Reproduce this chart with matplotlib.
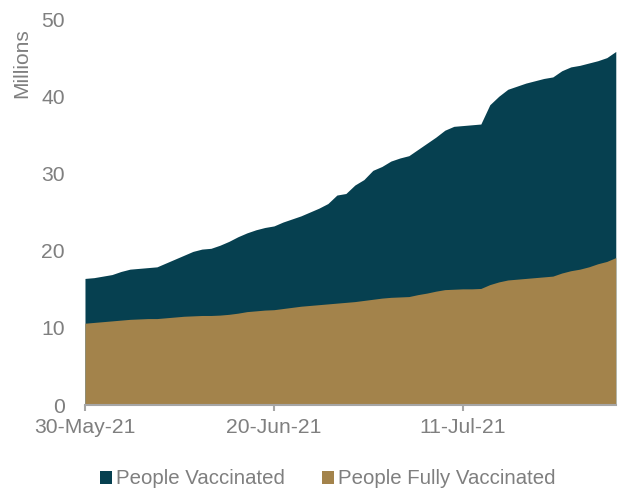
import matplotlib
matplotlib.use("Agg")
import matplotlib.pyplot as plt
import matplotlib.dates as mdates
import numpy as np
import pandas as pd
from matplotlib.patches import Patch

plt.rcParams['font.family'] = ['Liberation Sans', 'DejaVu Sans']

start_date = "2021-05-30"
people_vaccinated = [
    16.4, 16.5, 16.7, 16.9, 17.3, 17.6, 17.7, 17.8, 17.9, 18.4,
    18.9, 19.4, 19.9, 20.2, 20.3, 20.7, 21.2, 21.8, 22.3, 22.7,
    23.0, 23.2, 23.7, 24.1, 24.5, 25.0, 25.5, 26.1, 27.2, 27.4,
    28.5, 29.2, 30.4, 30.9, 31.6, 32.0, 32.3, 33.1, 33.9, 34.7,
    35.6, 36.1, 36.2, 36.3, 36.4, 38.9, 40.0, 40.9, 41.3, 41.7,
    42.0, 42.3, 42.5, 43.3, 43.8, 44.0, 44.3, 44.6, 45.0, 45.8,
]
people_fully_vaccinated = [
    10.6, 10.7, 10.8, 10.9, 11.0, 11.1, 11.15, 11.2, 11.2, 11.3,
    11.4, 11.5, 11.55, 11.6, 11.6, 11.65, 11.75, 11.9, 12.1, 12.2,
    12.3, 12.35, 12.5, 12.65, 12.8, 12.9, 13.0, 13.1, 13.2, 13.3,
    13.4, 13.55, 13.7, 13.85, 13.95, 14.0, 14.05, 14.3, 14.5, 14.75,
    14.95, 15.0, 15.05, 15.05, 15.1, 15.6, 15.95, 16.2, 16.3, 16.4,
    16.5, 16.6, 16.7, 17.1, 17.4, 17.6, 17.9, 18.3, 18.6, 19.1,
]
series_names = ["People Vaccinated", "People Fully Vaccinated"]
tick_dates = ["2021-05-30", "2021-06-20", "2021-07-11"]
y_ticks = [0, 10, 20, 30, 40, 50]

dates = pd.date_range(start_date, periods=len(people_vaccinated), freq="D")

c_dark = "#064050"
c_brown = "#A3834B"
c_text = "#7F7F7F"

fig = plt.figure(figsize=(6.23, 4.88), dpi=100)
ax = fig.add_axes([0.1364, 0.170, 0.852, 0.791])

ax.fill_between(dates, 0, people_vaccinated, color=c_dark, lw=0)
ax.fill_between(dates, 0, people_fully_vaccinated, color=c_brown, lw=0)

ax.set_xlim(dates[0], dates[-1])
ax.set_ylim(0, 50)
ax.set_yticks(y_ticks)
ax.set_xticks(pd.to_datetime(tick_dates))
ax.xaxis.set_major_formatter(mdates.DateFormatter("%d-%b-%y"))

for s in ["top", "right", "left"]:
    ax.spines[s].set_visible(False)
ax.spines["bottom"].set_color("#A6A6A6")
ax.spines["bottom"].set_linewidth(1.5)
ax.tick_params(axis="y", length=0, labelsize=15.2, labelcolor=c_text, pad=14.4)
ax.tick_params(axis="x", length=4, width=1.5, color="#A6A6A6", labelsize=15.2,
               labelcolor=c_text, pad=5.5)

fig.text(21.5 / 623, 1 - 63.5 / 488, "Millions", rotation=90, ha="center", va="center",
         fontsize=15, color=c_text)

handles = [Patch(facecolor=c_dark, edgecolor="none"),
           Patch(facecolor=c_brown, edgecolor="none")]
fig.legend(handles, series_names, loc="center", bbox_to_anchor=(0.5265, 1 - 479 / 488),
           ncol=2, frameon=False, fontsize=14.7, labelcolor=c_text,
           handlelength=0.6, handleheight=0.6, handletextpad=0.2, columnspacing=1.8,
           borderpad=0, borderaxespad=0)

fig.savefig("out.png", dpi=100)
